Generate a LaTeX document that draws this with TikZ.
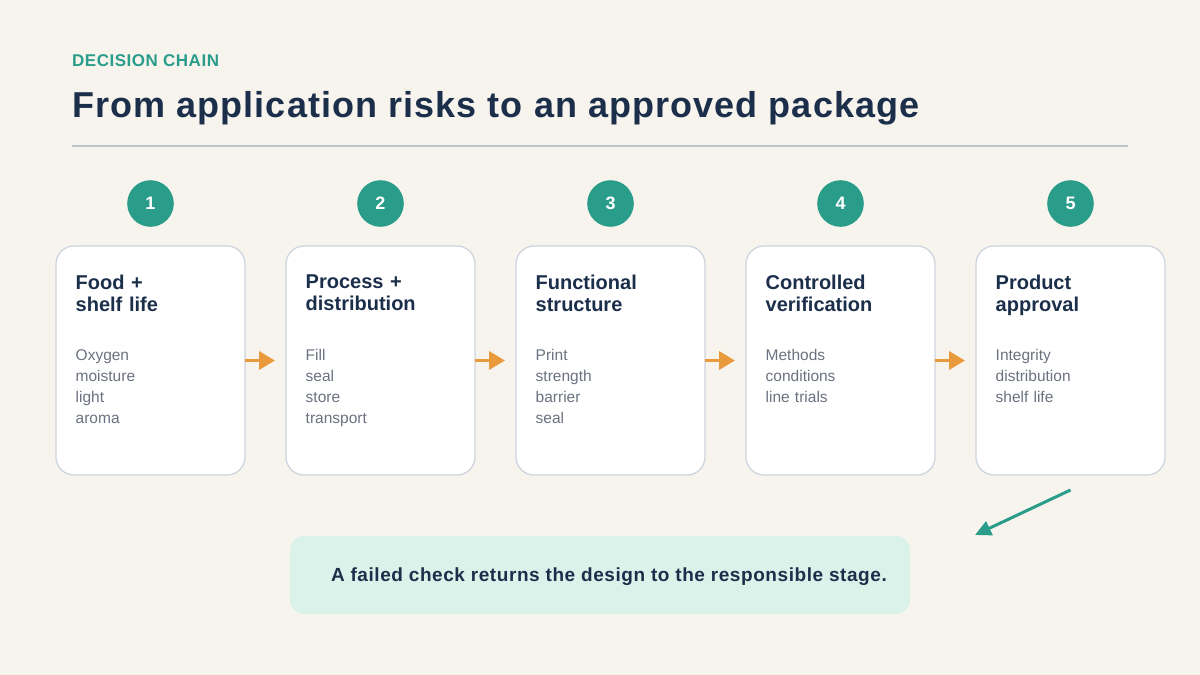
\documentclass[tikz,border=0pt]{standalone}
\usepackage{fontspec}
\setmainfont{Liberation Sans}
\newfontfamily\widesans[LetterSpace=3]{Liberation Sans}
\usetikzlibrary{positioning,arrows.meta}
\definecolor{paper}{HTML}{F7F4EE}
\definecolor{teal}{HTML}{2A9D8A}
\definecolor{navy}{HTML}{1B2E4A}
\definecolor{slate}{HTML}{6B7280}
\definecolor{edge}{HTML}{CDD5DF}
\definecolor{mint}{HTML}{DAF2EA}
\definecolor{amber}{HTML}{E99A3C}
\tikzset{
  stage/.style={draw=edge, line width=1.3pt, fill=white, rounded corners=18pt,
    minimum width=189pt, minimum height=229pt, inner sep=0pt, outer sep=0pt},
  numdot/.style={circle, fill=teal, text=white, minimum size=46.6pt, inner sep=0pt,
    font=\fontsize{18}{18}\selectfont\bfseries},
  head/.style={anchor=north west, inner sep=0pt, text width=160pt, align=left,
    text=navy, font=\fontsize{20}{22.5}\selectfont\bfseries},
  body/.style={anchor=north west, inner sep=0pt, text width=160pt, align=left,
    text=slate, font=\fontsize{15.5}{21}\selectfont},
  flow/.style={draw=amber, line width=3.5pt, -{Triangle[length=16pt,width=18pt]}},
  back/.style={draw=teal, line width=3pt, -{Triangle[length=16pt,width=15pt]}},
  callout/.style={fill=mint, rounded corners=14pt, minimum width=620pt, minimum height=78pt, inner sep=0pt}
}
\begin{document}
\begin{tikzpicture}[x=1pt,y=-1pt]
  \fill[paper] (0,0) rectangle (1200,675);
  \useasboundingbox (0,0) rectangle (1200,675);
  % header
  \node[anchor=base west, inner sep=0pt, text=teal, font=\widesans\fontsize{17}{17}\selectfont\bfseries] (kicker) at (72,66.7) {DECISION CHAIN};
  \node[anchor=base west, inner sep=0pt, text=navy, font=\widesans\fontsize{36}{36}\selectfont\bfseries] (title) at (72,117) {From application risks to an approved package};
  \draw[edge!80!gray, line width=1.5pt] (72,146) -- (1128,146);
  % stages
  \node[stage] (s1) at (150.5,360.5) {};
  \node[stage, right=41pt of s1] (s2) {};
  \node[stage, right=41pt of s2] (s3) {};
  \node[stage, right=41pt of s3] (s4) {};
  \node[stage, right=41pt of s4] (s5) {};
  \node[numdot, above=19pt of s1] (n1) {1};
  \node[numdot, above=19pt of s2] (n2) {2};
  \node[numdot, above=19pt of s3] (n3) {3};
  \node[numdot, above=19pt of s4] (n4) {4};
  \node[numdot, above=19pt of s5] (n5) {5};
  \node[head] (h1) at ([shift={(19.5pt,-28.5pt)}]s1.north west) {Food +\\shelf life};
  \node[head] (h2) at ([shift={(19.5pt,-28.5pt)}]s2.north west) {Process +\\distribution};
  \node[head] (h3) at ([shift={(19.5pt,-28.5pt)}]s3.north west) {Functional\\structure};
  \node[head] (h4) at ([shift={(19.5pt,-28.5pt)}]s4.north west) {Controlled\\verification};
  \node[head] (h5) at ([shift={(19.5pt,-28.5pt)}]s5.north west) {Product\\approval};
  \node[body] (b1) at ([shift={(19.5pt,-103pt)}]s1.north west) {Oxygen\\moisture\\light\\aroma};
  \node[body] (b2) at ([shift={(19.5pt,-103pt)}]s2.north west) {Fill\\seal\\store\\transport};
  \node[body] (b3) at ([shift={(19.5pt,-103pt)}]s3.north west) {Print\\strength\\barrier\\seal};
  \node[body] (b4) at ([shift={(19.5pt,-103pt)}]s4.north west) {Methods\\conditions\\line trials};
  \node[body] (b5) at ([shift={(19.5pt,-103pt)}]s5.north west) {Integrity\\distribution\\shelf life};
  \draw[flow] (s1.east) -- ([xshift=-11pt]s2.west);
  \draw[flow] (s2.east) -- ([xshift=-11pt]s3.west);
  \draw[flow] (s3.east) -- ([xshift=-11pt]s4.west);
  \draw[flow] (s4.east) -- ([xshift=-11pt]s5.west);
  % failed check goes back
  \node[callout] (note) at (600,575) {};
  \node[anchor=base west, inner sep=0pt, text=navy, font=\widesans\fontsize{19}{19}\selectfont\bfseries] (notetext) at ([shift={(41pt,-6pt)}]note.west) {A failed check returns the design to the responsible stage.};
  \coordinate (retstart) at ([yshift=-15pt]s5.south);
  \coordinate (retend) at (975,535);
  \draw[back] (retstart) -- (retend);
\end{tikzpicture}
\end{document}
